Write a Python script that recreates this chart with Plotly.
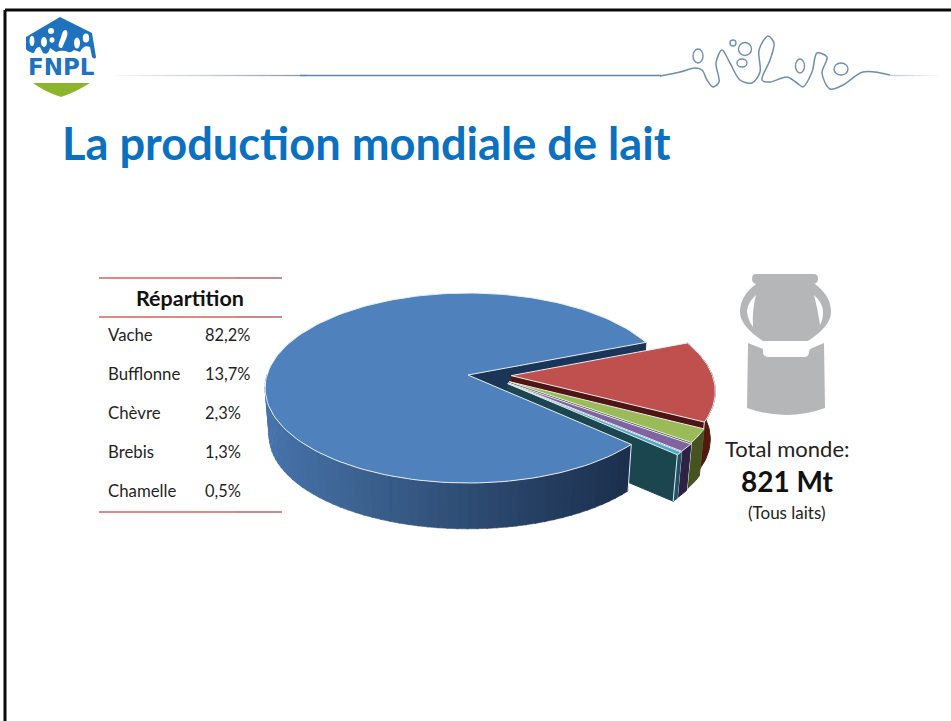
import numpy as np
import plotly.graph_objects as go

# ---------- data ----------
categories = ["Vache", "Bufflonne", "Chèvre", "Brebis", "Chamelle"]
shares = [82.2, 13.7, 2.3, 1.3, 0.5]
share_labels = ["82,2%", "13,7%", "2,3%", "1,3%", "0,5%"]
table_title = "Répartition"
chart_title = "La production mondiale de lait"
total_lines = ["Total monde:", "821 Mt", "(Tous laits)"]

top_colors = ["#4f81bd", "#c0504d", "#9bbb59", "#8064a2", "#4bacc6"]
face_colors = ["#1b3557", "#4f1512", "#44521f", "#2f2148", "#1c464f"]
side_colors = ["#1d3150", "#52190f", "#46531f", "#2e2146", "#1f5563"]
OUT = "#e8eef6"

# ---------- pie geometry ----------
CX, CY, A, B, K = 468.0, 375.0, 201.0, 93.2, 0.137
SCALE, DROP = 0.98, 48.0
START = 42.5
EXPLODE, EXPL_DIR = 0.215, 0.6


def proj(u, v, z=0):
    u, v = np.asarray(u, float), np.asarray(v, float)
    w = 1 - K * v
    s = SCALE if z else 1.0
    d = DROP if z else 0.0
    return CX + s * A * u / w, CY + s * B * v / w + d


fig = go.Figure()


def poly(xs, ys, fill, line=None, lw=1.0, name=None):
    xs, ys = list(xs), list(ys)
    fig.add_trace(go.Scatter(
        x=xs + xs[:1], y=ys + ys[:1], mode="lines", fill="toself", fillcolor=fill,
        line=dict(color=line or fill, width=lw), hoverinfo="skip", showlegend=False, name=name))


def rim(a0, a1, off=(0, 0), n=40):
    t = np.radians(np.linspace(a0, a1, n))
    return np.cos(t) + off[0], np.sin(t) + off[1]


def hexmix(stops, t):
    ts = [s[0] for s in stops]
    cols = [[int(s[1][i:i + 2], 16) for i in (1, 3, 5)] for s in stops]
    c = [int(np.interp(t, ts, [q[j] for q in cols])) for j in range(3)]
    return "#%02x%02x%02x" % tuple(c)


angles = START + np.concatenate([[0], np.cumsum(shares)]) * 3.6

# Vache: cut face first (behind the exploded group)
a_end = angles[1]
ue, ve = np.cos(np.radians(a_end)), np.sin(np.radians(a_end))
tx, ty = proj([0, ue], [0, ve])
bx, by = proj([ue, 0], [ve, 0], 1)
poly(np.r_[tx, bx], np.r_[ty, by], face_colors[0], name=categories[0])

# exploded slices, back to front
for i in range(1, len(shares)):
    a0, a1 = angles[i], angles[i + 1]
    mid = ((a0 + a1) / 2 + 180) % 360 - 180
    off = (EXPLODE * np.cos(np.radians(mid * EXPL_DIR)), EXPLODE * np.sin(np.radians(mid * EXPL_DIR)))
    u, v = rim(a0, a1, off)
    tx, ty = proj(u, v)
    bx, by = proj(u, v, 1)
    poly(np.r_[tx, bx[::-1]], np.r_[ty, by[::-1]], side_colors[i], name=categories[i])
    tx2, ty2 = proj([off[0], u[-1]], [off[1], v[-1]])
    bx2, by2 = proj([u[-1], off[0]], [v[-1], off[1]], 1)
    poly(np.r_[tx2, bx2], np.r_[ty2, by2], face_colors[i])
    fig.add_trace(go.Scatter(x=[tx2[1], bx2[0]], y=[ty2[1], by2[0]], mode="lines",
                             line=dict(color=OUT, width=1), hoverinfo="skip", showlegend=False))
    px, py = proj(np.r_[off[0], u], np.r_[off[1], v])
    poly(px, py, top_colors[i], OUT, 1.0, name=categories[i])

# Vache: curved outer side as gradient strips
stops = [(268, "#4673aa"), (350, "#3d6493"), (468, "#2e4c74"), (600, "#1f3554"), (630, "#1c2f4d")]
edges = np.arange(START, 181.5, 2.5)
for a0, a1 in zip(edges[:-1], edges[1:]):
    u, v = rim(a0, a1 + 0.3, n=4)
    tx, ty = proj(u, v)
    bx, by = proj(u, v, 1)
    poly(np.r_[tx, bx[::-1]], np.r_[ty, by[::-1]], hexmix(stops, float(tx.mean())), lw=0.6)
u, v = rim(START, START, n=2)
tx, ty = proj(u, v)
bx, by = proj(u, v, 1)
fig.add_trace(go.Scatter(x=[tx[0], bx[0]], y=[ty[0], by[0]], mode="lines",
                         line=dict(color=OUT, width=1), hoverinfo="skip", showlegend=False))
u, v = rim(angles[0], angles[1], n=160)
px, py = proj(np.r_[0, u], np.r_[0, v])
poly(px, py, top_colors[0], OUT, 1.0, name=categories[0])


# ---------- text ----------
def text(x, y, s, size, color="#1f1f1f", bold=False, anchor="left", family="Lato"):
    fig.add_annotation(x=x, y=y, xref="x", yref="y", text=("<b>%s</b>" % s) if bold else s,
                       showarrow=False, xanchor=anchor, yanchor="middle",
                       font=dict(family=family, size=size, color=color))


text(59.5, 142, chart_title, 45.2, "#0a70c0", True)
text(190, 298, table_title, 21.5, "#111111", True, "center")
row_y = [334, 373, 412, 451, 490]
for c, l, y in zip(categories, share_labels, row_y):
    text(106, y, c, 16.8)
    text(203, y, l, 16.4)
text(787, 448, total_lines[0], 22, "#222222", False, "center")
text(787, 481, total_lines[1], 28, "#111111", True, "center")
text(787, 512, total_lines[2], 17, "#222222", False, "center")

shapes = []


def line(x0, y0, x1, y1, color, w=1.5):
    shapes.append(dict(type="line", xref="x", yref="y", x0=x0, y0=y0, x1=x1, y1=y1,
                       line=dict(color=color, width=w), layer="above"))


def path(d, fill=None, lcolor=None, w=0):
    shapes.append(dict(type="path", xref="x", yref="y", path=d, fillcolor=fill or "rgba(0,0,0,0)",
                       line=dict(color=lcolor or "rgba(0,0,0,0)", width=w), layer="above"))


def oval(cx, cy, rx, ry, fill=None, lcolor=None, w=0):
    shapes.append(dict(type="circle", xref="x", yref="y", x0=cx - rx, x1=cx + rx, y0=cy - ry, y1=cy + ry,
                       fillcolor=fill or "rgba(0,0,0,0)",
                       line=dict(color=lcolor or "rgba(0,0,0,0)", width=w), layer="above"))


# frame
line(5, 10, 951, 10, "#0a0a0a", 3)
line(5, 10, 5, 721, "#0a0a0a", 3)

# table rules
for y in (278, 317, 512):
    line(99, y, 236, y, "#d9605c", 1.3)
    line(236, y, 282, y, "#b9605f", 1.3)

# logo
BLUE = "#1f72bd"
path("M60,17 L92,33 L96,57 Q95,60 92,57 L90,47 Q84,44 80,52 L74,50 Q70,54 66,51 Q60,50 56,52 L50,48 Q48,56 43,53 L40,47 Q36,46 34,53 Q28,52 26,49 L26,37 Z", BLUE)
oval(32, 41, 2.4, 5, "#ffffff")
oval(44, 42, 3, 5, "#ffffff")
oval(51, 31, 3, 3, "#ffffff")
oval(52, 40, 2.5, 2.8, "#ffffff")
path("M66,30 Q69,32 66,39 L62,48 Q57,48 59,43 L62,34 Q63,30 66,30 Z", "#ffffff")
oval(77, 43, 3, 5.5, "#ffffff")
oval(86, 38, 3.2, 4.5, "#ffffff")
oval(89, 53, 1.8, 1.8, "#ffffff")
text(61, 67, "FNPL", 23, BLUE, True, "center", "DejaVu Sans")
path("M33,83 L90,83 Q76,92 61,97 Q45,92 33,83 Z", "#8db52c")

# header line fading in and out
for x0 in np.arange(115, 300, 12):
    t = (x0 - 115) / 185
    c = hexmix([(0, "#f2f4f7"), (0.5, "#c5ccd6"), (1, "#8595a8")], t)
    line(x0, 75.5, x0 + 12, 75.5, c, 1.3)
line(300, 75.5, 661, 75.5, "#5f86ab", 1.3)
sq_x = [660, 680, 695, 702, 707, 713, 719, 716, 722, 730, 740, 752, 760, 759, 768, 774, 770, 762, 770, 787, 797, 803, 812, 817, 827, 822, 830, 843, 863, 890]
sq_y = [76, 72, 68, 70, 80, 87, 82, 63, 50, 63, 80, 83, 72, 50, 36, 43, 60, 80, 82, 77, 83, 87, 72, 53, 57, 73, 89, 85, 72, 75]
fig.add_trace(go.Scatter(x=sq_x, y=sq_y, mode="lines",
                         line=dict(color="#6b8fb0", width=1.5, shape="spline", smoothing=0.9),
                         hoverinfo="skip", showlegend=False))
for x0 in np.arange(890, 933, 6):
    t = (x0 - 890) / 43
    line(x0, 75.5, x0 + 6, 75.5, hexmix([(0, "#c0ccd8"), (1, "#f6f7f8")], t), 1.3)
for cx, cy, rx, ry in [(698, 56, 5, 7), (733, 43, 3, 3), (745, 49, 6.5, 6.5), (742, 63, 5, 4), (800, 66, 4.5, 7), (841, 69, 7, 6)]:
    oval(cx, cy, rx, ry, None, "#6f90ae", 1.4)

# milk can
GR = "#b4b6b8"
path("M756,274 L814,274 Q818,274 818,279 Q818,283 814,284 L756,284 Q752,283 752,279 Q752,274 756,274 Z", GR)
path("M756,284 L815,284 Q831,296 831,312 Q831,326 808,341 L763,341 Q740,326 740,312 Q740,296 756,284 Z", GR)
path("M756,295 Q747,303 747,312 Q748,320 753,327 Q752,310 756,295 Z", "#ffffff")
path("M814,295 Q823,303 823,312 Q823,320 820,325 Q818,310 814,295 Z", "#ffffff")
path("M748,343 L763,349 L763,352 Q763,357 769,357 L804,357 Q809,357 809,352 L810,349 L824,343 L825,408 Q787,422 747,408 Z", GR)

fig.update_layout(
    width=951, height=721, margin=dict(l=0, r=0, t=0, b=0),
    paper_bgcolor="#ffffff", plot_bgcolor="#ffffff", showlegend=False, shapes=shapes,
    xaxis=dict(range=[0, 951], visible=False, fixedrange=True),
    yaxis=dict(range=[721, 0], visible=False, fixedrange=True),
)
fig.write_html("out.html", config={"displayModeBar": False},
               post_script="document.body.style.margin='0';document.documentElement.style.overflow='hidden';")
